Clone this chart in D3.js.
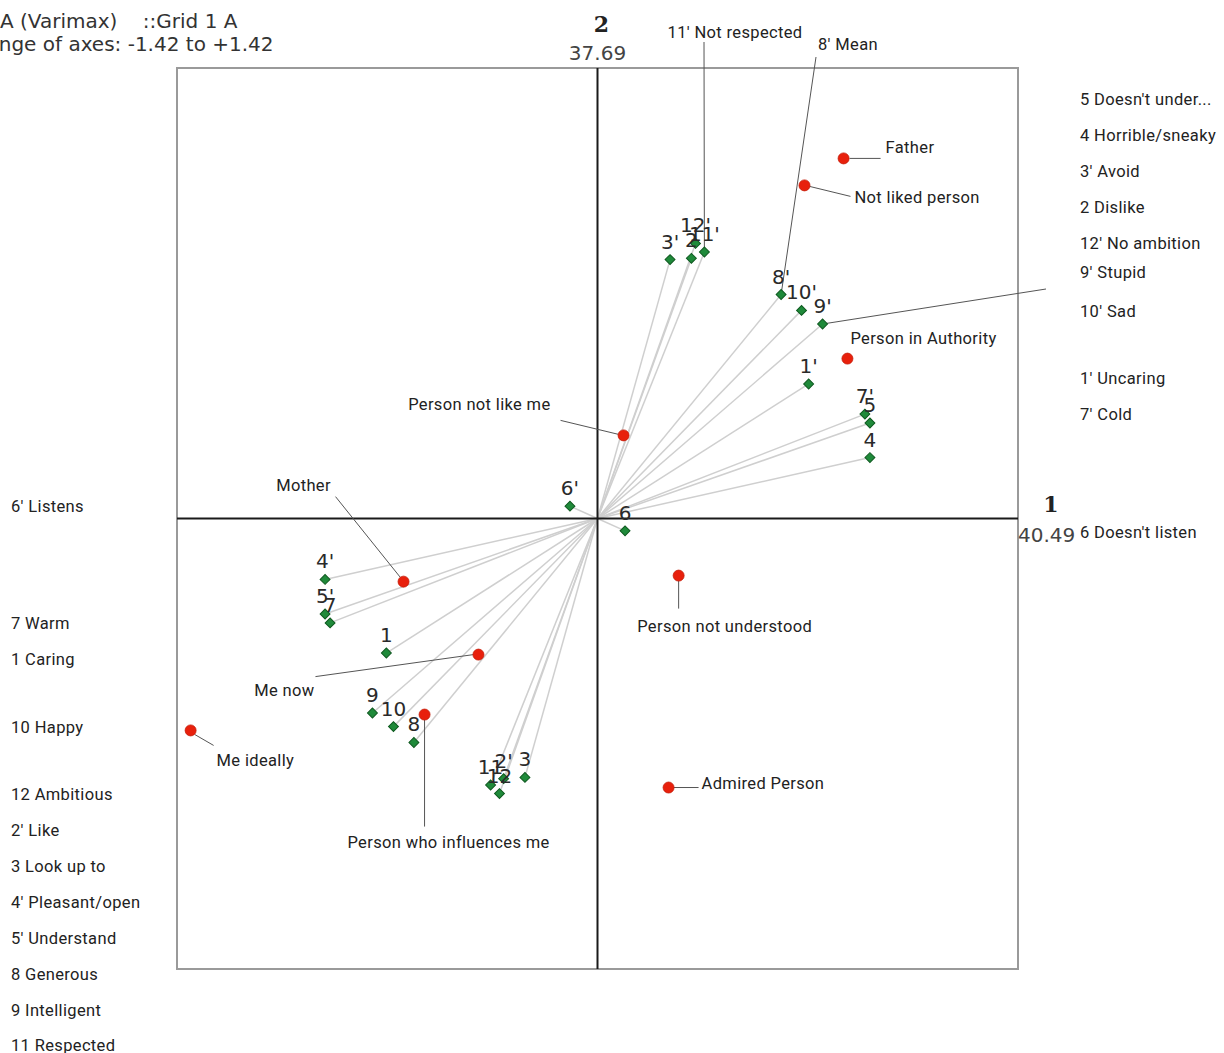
<!DOCTYPE html>
<html><head><meta charset="utf-8">
<script src="https://cdn.jsdelivr.net/npm/d3@7"></script>
<style>body{margin:0;background:#fff;overflow:hidden}svg{display:block}text{white-space:pre}</style>
</head><body>
<script>
// ---------- DATA ----------
const titleLines = ["PCA (Varimax)    ::Grid 1 A", "Range of axes: -1.42 to +1.42"];
const axisRange = 1.42;
const axisNames = ["1", "2"];
const axisPercents = ["40.49", "37.69"];

// constructs: label of the plain pole, label of the primed pole, loading of plain pole
const constructIds = ["1","2","3","4","5","6","7","8","9","10","11","12"];
const plainPoles  = ["Caring","Dislike","Look up to","Horrible/sneaky","Doesn't under...","Doesn't listen","Warm","Generous","Intelligent","Happy","Respected","Ambitious"];
const primedPoles = ["Uncaring","Like","Avoid","Pleasant/open","Understand","Listens","Cold","Mean","Stupid","Sad","Not respected","No ambition"];
const constructX = [-0.713, 0.317, -0.245, 0.920, 0.920, 0.093, -0.903, -0.620, -0.760, -0.689, -0.361, -0.331];
const constructY = [-0.424, 0.820, -0.816, 0.192, 0.301, -0.039, -0.329, -0.706, -0.613, -0.656, -0.840, -0.867];

// elements
const elementNames = ["Father","Not liked person","Person in Authority","Person not like me","Mother","Me now","Person who influences me","Me ideally","Person not understood","Admired Person"];
const elementX = [0.831, 0.699, 0.844, 0.088, -0.655, -0.402, -0.584, -1.374, 0.274, 0.240];
const elementY = [1.135, 1.050, 0.504, 0.262, -0.199, -0.429, -0.618, -0.668, -0.180, -0.848];

// ---------- LAYOUT ----------
const W = 1224, H = 1053;
const box = {l:177, r:1018, t:68, b:969};
const x = d3.scaleLinear().domain([-axisRange, axisRange]).range([box.l, box.r]);
const y = d3.scaleLinear().domain([-axisRange, axisRange]).range([box.b, box.t]);

// element label placement: line (rel. dot) and label offset (center y)
const elemLayout = {
  "Father":                  {l:[6,0,37,0],     t:[42,-11,"start"]},
  "Not liked person":        {l:[5,1,46,11],    t:[50,12,"start"]},
  "Person in Authority":     {l:null,           t:[3,-21,"start"]},
  "Person not like me":      {l:[-5,-1,-63,-15],t:[-73,-31,"end"]},
  "Mother":                  {l:[-3,-4,-68,-85],t:[-100,-97,"middle"]},
  "Me now":                  {l:[-5,0,-163,22], t:[-194,35,"middle"]},
  "Person who influences me":{l:[0,5,0,112],    t:[24,127,"middle"]},
  "Me ideally":              {l:[4,4,23,15],    t:[26,30,"start"]},
  "Person not understood":   {l:[0,5,0,33],     t:[46,50,"middle"]},
  "Admired Person":          {l:[5,0,30,0],     t:[33,-5,"start"]}
};
// side legend slots: pole key -> center y
const rightSlots = [["5",99],["4",135],["3'",171],["2",207],["12'",243],["9'",272],["10'",311],["1'",378],["7'",414],["6",532]];
const leftSlots  = [["6'",506],["7",623],["1",659],["10",727],["12",794],["2'",830],["3",866],["4'",902],["5'",938],["8",974],["9",1010],["11",1045]];
const topSlots   = [["11'",735,32,"middle"],["8'",818,44,"start"]];
// leader lines from legend labels to points: key -> [x1,y1]
const leaders = {"11'":[704,42], "8'":[816,57], "9'":[1046,289]};

// ---------- BUILD ----------
const poles = [];
constructIds.forEach((id,i)=>{
  poles.push({key:id, text:id+" "+plainPoles[i], vx:constructX[i], vy:constructY[i]});
  poles.push({key:id+"'", text:id+"' "+primedPoles[i], vx:-constructX[i], vy:-constructY[i]});
});
const poleByKey = Object.fromEntries(poles.map(p=>[p.key,p]));

const svg = d3.select("body").append("svg").attr("width",W).attr("height",H);
const font = "'DejaVu Sans', sans-serif";
const lfont = "Roboto, sans-serif";
const lsize = 16.5, lspace = 0.35;

// title
svg.selectAll("text.title").data(titleLines).join("text")
  .attr("x",(d,i)=> i===0 ? -26 : -27).attr("y",(d,i)=>28+i*23)
  .attr("font-family",font).attr("font-size",20).attr("fill","#333").text(d=>d);

// box
svg.append("rect").attr("x",box.l).attr("y",box.t).attr("width",box.r-box.l).attr("height",box.b-box.t)
  .attr("fill","none").attr("stroke","#9a9a9a").attr("stroke-width",2);

// lines from origin
svg.append("g").selectAll("line").data(poles).join("line")
  .attr("x1",x(0)).attr("y1",y(0)).attr("x2",d=>x(d.vx)).attr("y2",d=>y(d.vy))
  .attr("stroke","#cfcfcf").attr("stroke-width",1.5);

// axes
svg.append("line").attr("x1",box.l).attr("x2",box.r).attr("y1",y(0)).attr("y2",y(0)).attr("stroke","#1a1a1a").attr("stroke-width",2);
svg.append("line").attr("x1",x(0)).attr("x2",x(0)).attr("y1",box.t).attr("y2",box.b).attr("stroke","#1a1a1a").attr("stroke-width",2);

// axis labels
svg.append("text").attr("x",x(0)+4).attr("y",32).attr("text-anchor","middle").attr("font-family","'DejaVu Serif', serif")
  .attr("font-weight","bold").attr("font-size",22).attr("fill","#222").text(axisNames[1]);
svg.append("text").attr("x",x(0)).attr("y",60).attr("text-anchor","middle").attr("font-family",font)
  .attr("font-size",20).attr("fill","#444").text(axisPercents[1]);
svg.append("text").attr("x",box.r+33).attr("y",512).attr("text-anchor","middle").attr("font-family","'DejaVu Serif', serif")
  .attr("font-weight","bold").attr("font-size",22).attr("fill","#222").text(axisNames[0]);
svg.append("text").attr("x",box.r).attr("y",542).attr("text-anchor","start").attr("font-family",font)
  .attr("font-size",20).attr("fill","#444").text(axisPercents[0]);

// leader lines for construct labels
svg.append("g").selectAll("line").data(Object.entries(leaders)).join("line")
  .attr("x1",d=>d[1][0]).attr("y1",d=>d[1][1])
  .attr("x2",d=>x(poleByKey[d[0]].vx)).attr("y2",d=>y(poleByKey[d[0]].vy))
  .attr("stroke","#555").attr("stroke-width",1);

// element leader lines
const elems = elementNames.map((n,i)=>({name:n, vx:elementX[i], vy:elementY[i], lay:elemLayout[n]}));
svg.append("g").selectAll("line").data(elems.filter(e=>e.lay.l)).join("line")
  .attr("x1",e=>x(e.vx)+e.lay.l[0]).attr("y1",e=>y(e.vy)+e.lay.l[1])
  .attr("x2",e=>x(e.vx)+e.lay.l[2]).attr("y2",e=>y(e.vy)+e.lay.l[3])
  .attr("stroke","#555").attr("stroke-width",1);

// construct diamonds
svg.append("g").selectAll("rect").data(poles).join("rect")
  .attr("x",-3.5).attr("y",-3.5).attr("width",7).attr("height",7)
  .attr("transform",d=>`translate(${x(d.vx)},${y(d.vy)}) rotate(45)`)
  .attr("fill","#1f8a3a").attr("stroke","#0f5a20").attr("stroke-width",1);

// construct point labels
svg.append("g").selectAll("text").data(poles).join("text")
  .attr("x",d=>x(d.vx)).attr("y",d=>y(d.vy)-11).attr("text-anchor","middle")
  .attr("font-family",font).attr("font-size",20).attr("fill","#2a2a2a").text(d=>d.key);

// element dots
svg.append("g").selectAll("circle").data(elems).join("circle")
  .attr("cx",e=>x(e.vx)).attr("cy",e=>y(e.vy)).attr("r",5.5)
  .attr("fill","#e8200c").attr("stroke","#c41a08").attr("stroke-width",0.8);

// element labels
svg.append("g").selectAll("text").data(elems).join("text")
  .attr("x",e=>x(e.vx)+e.lay.t[0]).attr("y",e=>y(e.vy)+e.lay.t[1]+6).attr("text-anchor",e=>e.lay.t[2])
  .attr("font-family",lfont).attr("font-size",lsize).attr("letter-spacing",lspace).attr("fill","#222").text(e=>e.name);

// side legend
const legend = svg.append("g").attr("font-family",lfont).attr("font-size",lsize).attr("letter-spacing",lspace).attr("fill","#222");
legend.selectAll("text.r").data(rightSlots).join("text").attr("class","r")
  .attr("x",1080).attr("y",d=>d[1]+6).text(d=>poleByKey[d[0]].text);
legend.selectAll("text.l").data(leftSlots).join("text").attr("class","l")
  .attr("x",11).attr("y",d=>d[1]+6).text(d=>poleByKey[d[0]].text);
legend.selectAll("text.t").data(topSlots).join("text").attr("class","t")
  .attr("x",d=>d[1]).attr("y",d=>d[2]+6).attr("text-anchor",d=>d[3]).text(d=>poleByKey[d[0]].text);
</script>
</body></html>
